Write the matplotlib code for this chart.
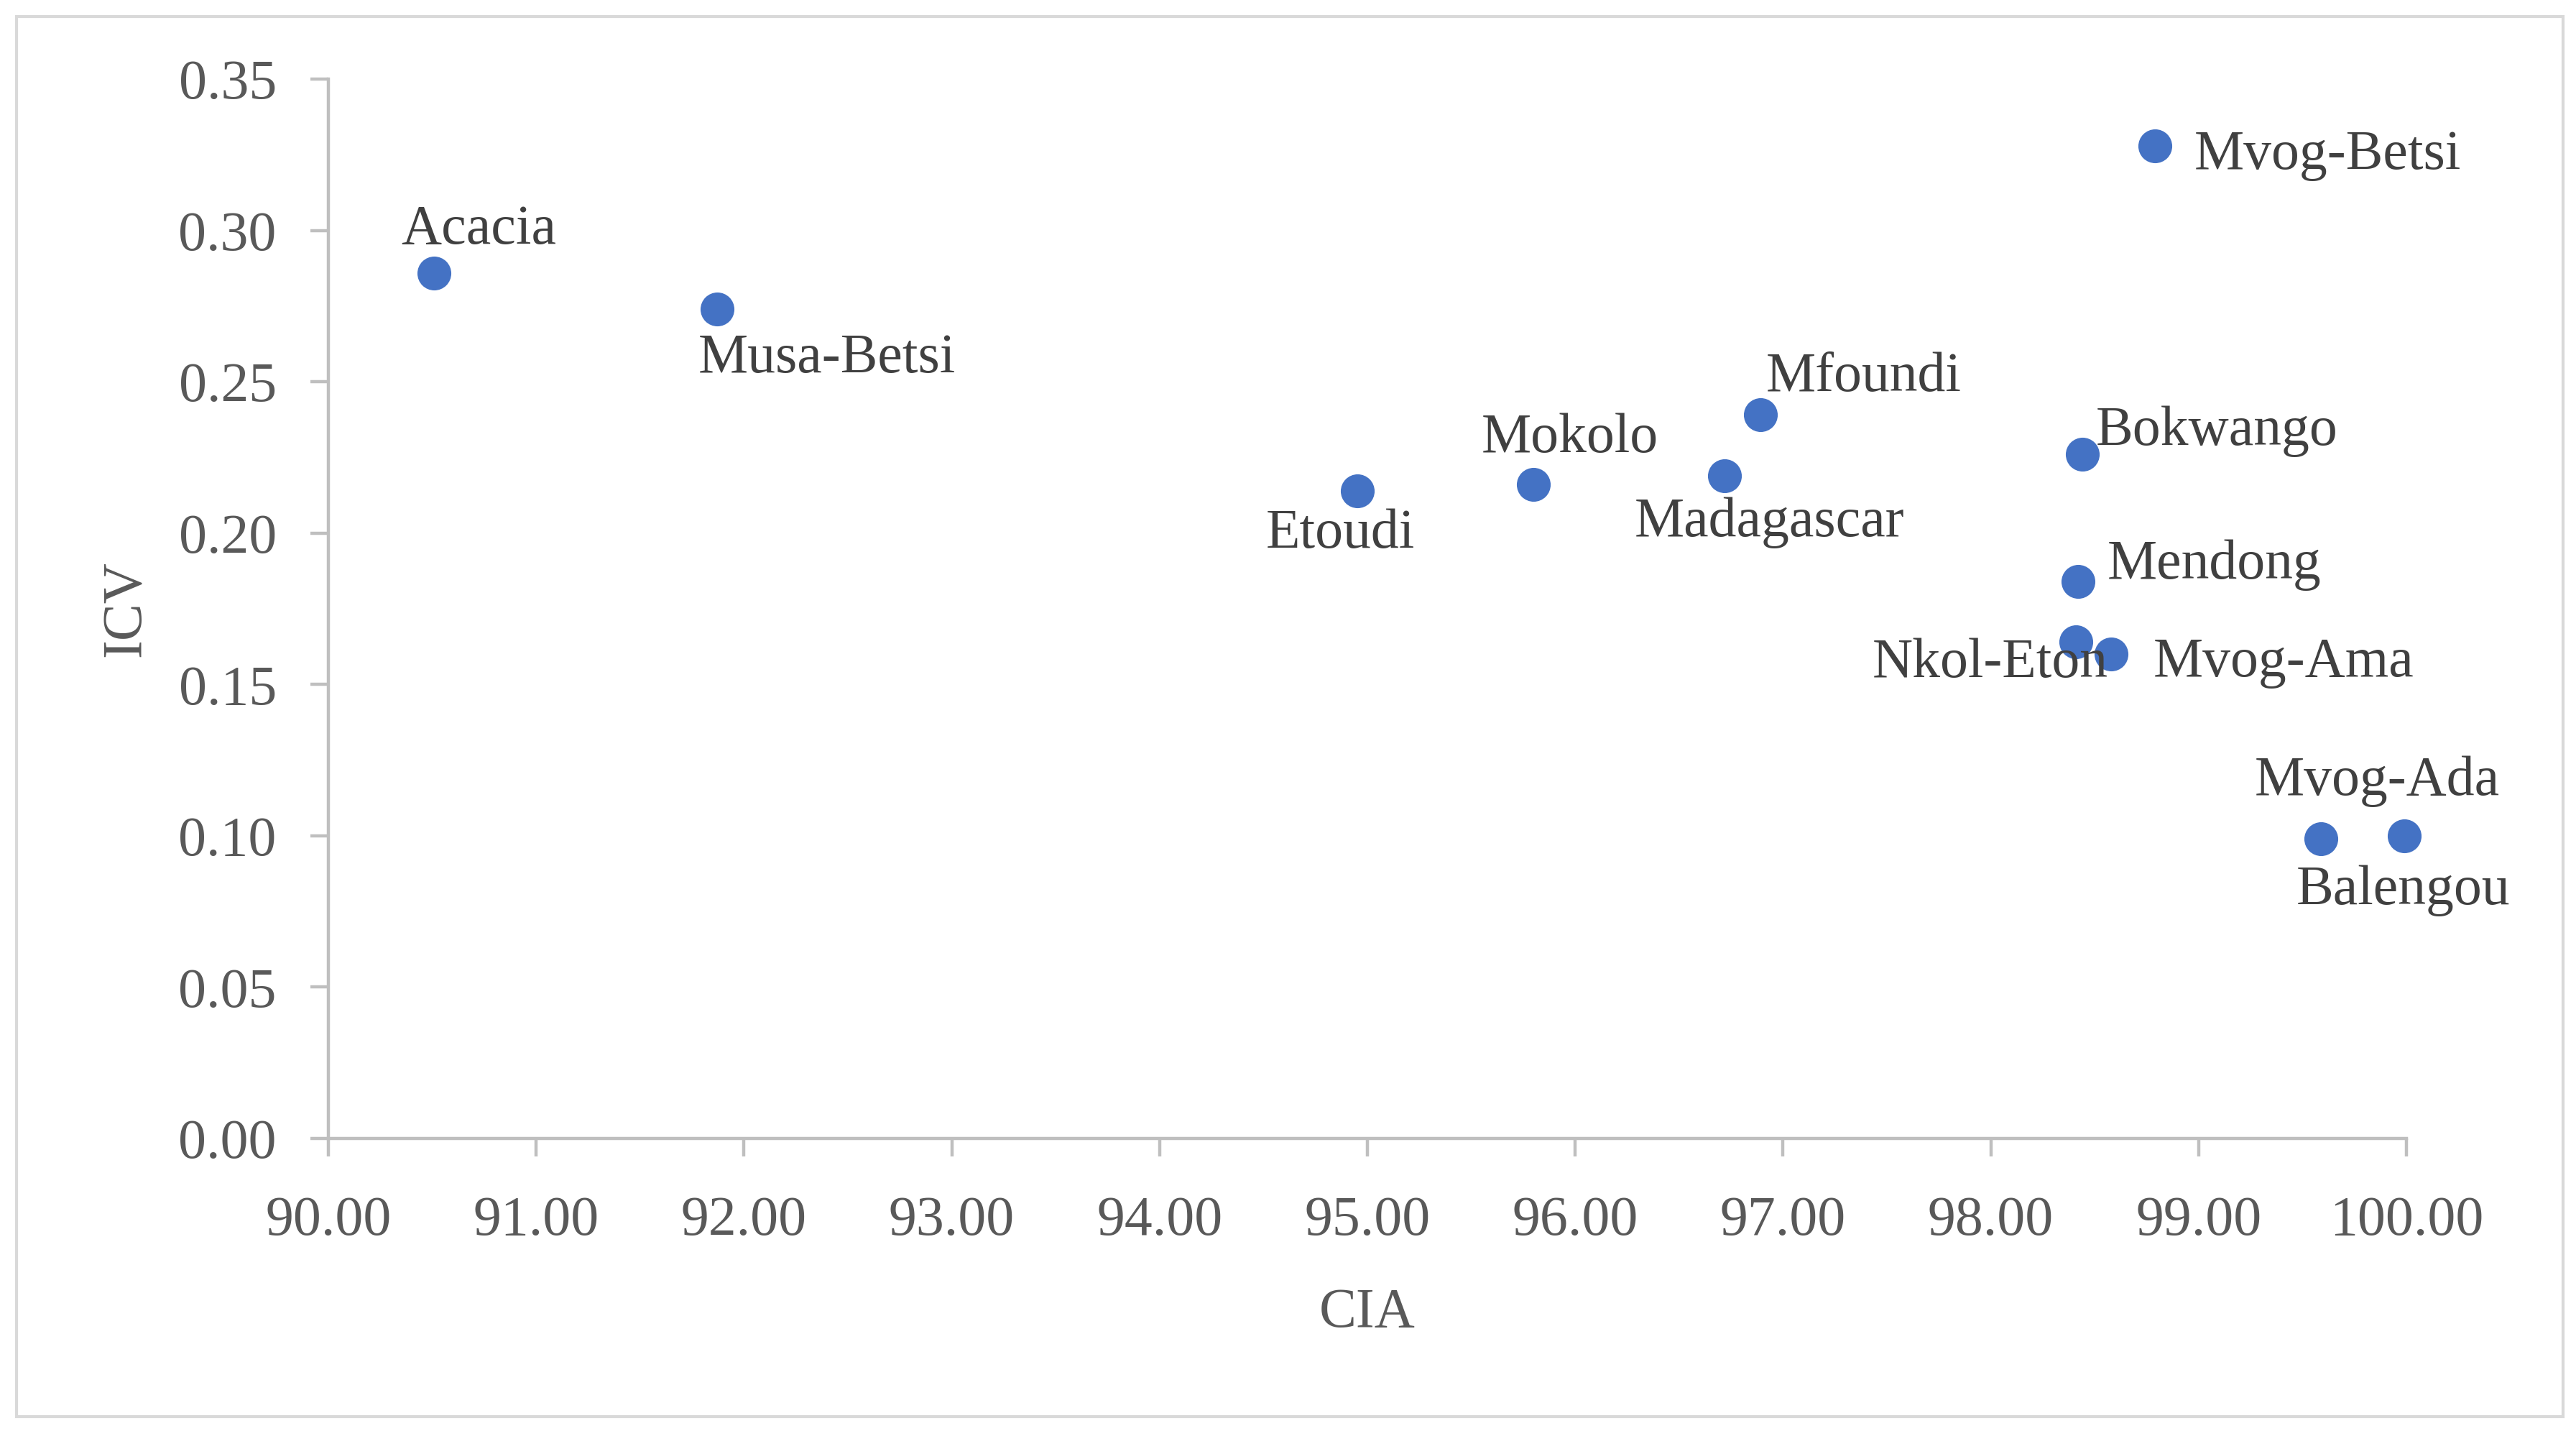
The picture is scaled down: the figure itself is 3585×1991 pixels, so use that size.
import matplotlib.pyplot as plt
from matplotlib.patches import Rectangle

plt.rcParams['font.family'] = ['Liberation Serif', 'DejaVu Serif']

# data
sites = ['Acacia', 'Musa-Betsi', 'Etoudi', 'Mokolo', 'Madagascar', 'Mfoundi',
         'Mvog-Betsi', 'Bokwango', 'Mendong', 'Nkol-Eton', 'Mvog-Ama',
         'Mvog-Ada', 'Balengou']
cia = [90.51, 91.87, 94.95, 95.80, 96.72, 96.89,
       98.79, 98.44, 98.42, 98.41, 98.58,
       99.59, 99.99]
icv = [0.286, 0.274, 0.214, 0.216, 0.219, 0.239,
       0.328, 0.226, 0.184, 0.164, 0.160,
       0.099, 0.100]

# label offsets in pixels (dx, dy) from each point
offsets = [(62, 59), (153, -69), (-23, -60), (50, 64), (62, -66), (144, 52),
           (240, -14), (187, 32), (190, 23), (-119, -30), (240, -12),
           (78, 80), (-2, -76)]

xticks = [90 + i for i in range(11)]
yticks = [0.05 * i for i in range(8)]

W, H = 3585, 1991
fig = plt.figure(figsize=(W / 100, H / 100), dpi=100)
ax = fig.add_axes([457 / W, 1 - 1584 / H, (3349 - 457) / W, (1584 - 110) / H])

ax.scatter(cia, icv, s=1150, color='#4472C4', zorder=3, clip_on=False, linewidths=0)

for name, x, y, (dx, dy) in zip(sites, cia, icv, offsets):
    ax.annotate(name, (x, y), xytext=(dx, dy), textcoords='offset pixels',
                ha='center', va='center', fontsize=56, color='#404040')

ax.set_xlim(90, 100)
ax.set_ylim(0, 0.35)
ax.set_xticks(xticks)
ax.set_yticks(yticks)
ax.set_xticklabels(['%.2f' % v for v in xticks])
ax.set_yticklabels(['%.2f' % v for v in yticks])

for s in ['top', 'right']:
    ax.spines[s].set_visible(False)
for s in ['left', 'bottom']:
    ax.spines[s].set_color('#BFBFBF')
    ax.spines[s].set_linewidth(3.2)

ax.tick_params(axis='both', length=18, width=3.2, color='#BFBFBF',
               labelsize=56, labelcolor='#595959')
ax.tick_params(axis='x', pad=39)
ax.tick_params(axis='y', pad=34)

ax.set_xlabel('CIA', fontsize=56, color='#595959', va='center')
ax.set_ylabel('ICV', fontsize=56, color='#595959', va='center')
ax.xaxis.set_label_coords(0.5, -0.165)
ax.yaxis.set_label_coords(-0.0972, 0.5)

fig.patches.append(Rectangle((23 / W, 1 - 1971 / H), (3567 - 23) / W, (1971 - 23) / H,
                             transform=fig.transFigure, fill=False,
                             edgecolor='#D9D9D9', linewidth=3))

fig.savefig('out.png', dpi=100)
